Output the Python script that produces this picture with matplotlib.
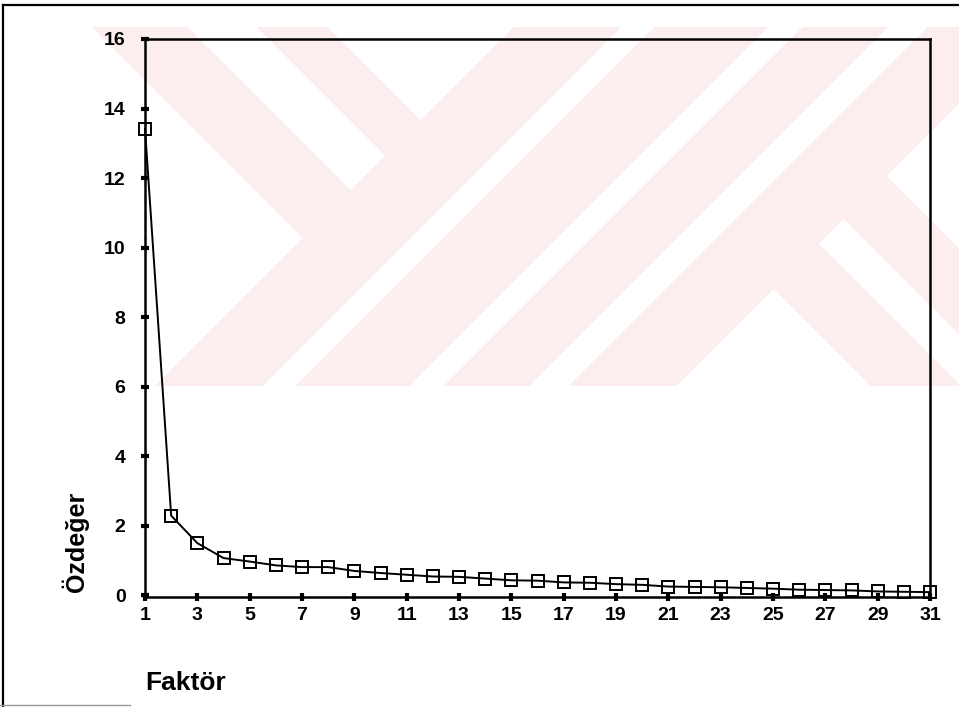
import numpy as np
import matplotlib
matplotlib.use("Agg")
import matplotlib.pyplot as plt
from matplotlib.lines import Line2D

plt.rcParams["font.family"] = ["Liberation Sans", "DejaVu Sans"]
plt.rcParams["font.weight"] = "bold"

# scree plot data
faktor = list(range(1, 32))
ozdeger = [13.42, 2.29, 1.50, 1.07, 0.97, 0.86, 0.81, 0.81, 0.70, 0.64,
           0.59, 0.54, 0.53, 0.48, 0.43, 0.42, 0.37, 0.36, 0.32, 0.30,
           0.25, 0.24, 0.23, 0.21, 0.19, 0.16, 0.15, 0.14, 0.11, 0.10, 0.09]
xticks = list(range(1, 32, 2))
yticks = list(range(0, 17, 2))

W, H = 959, 707
fig = plt.figure(figsize=(W / 100, H / 100), dpi=100)

# faint watermark behind the chart (pixel coords)
bg = fig.add_axes([0, 0, 1, 1], zorder=0)
bg.set_axis_off()
yy, xx = np.mgrid[0:H, 0:W] + 0.5
s = xx + yy
d = xx - yy
white = (yy < 27) | (yy > 386)
white |= (s < 541) & ((d < 65) | ((d > 160) & (d < 230)) | (d > 300))
white |= ((s > 648) & (s < 682)) | ((s > 795) & (s < 830)) | ((s > 915) & (s < 955))
white |= (s > 1062) & ((d < 485) | ((d > 575) & (d < 625)) | (d > 710))
img = np.ones((H, W, 3))
img[~white] = [0.992, 0.93, 0.937]
bg.imshow(img, extent=(0, W, H, 0), interpolation="nearest")
bg.set_xlim(0, W)
bg.set_ylim(H, 0)

# outer frame of the scanned page
bg.add_line(Line2D([3, 3], [5, H], color="black", lw=1.6))
bg.add_line(Line2D([3, W], [5, 5], color="black", lw=1.6))
bg.add_line(Line2D([0, 130], [705, 705], color="#999999", lw=1.0))

ax = fig.add_axes([145 / W, 1 - 597 / H, (930 - 145) / W, (597 - 39) / H], zorder=1)
ax.set_facecolor("none")
ax.plot(faktor, ozdeger, color="black", lw=1.4, marker="s", ms=9,
        mfc="none", mec="black", mew=1.4, clip_on=False)

ax.set_xlim(1, 31)
ax.set_ylim(-0.05, 16)
ax.set_xticks(xticks)
ax.set_yticks(yticks)
for sp in ax.spines.values():
    sp.set_linewidth(1.8)
ax.tick_params(axis="both", direction="inout", length=6, width=3, labelsize=14)
ax.tick_params(axis="y", pad=11)
ax.tick_params(axis="x", pad=4)

fig.text(75 / W, 1 - 592 / H, "Özdeğer", rotation=90, ha="center", va="bottom",
         fontsize=18, fontweight="bold")
fig.text(145 / W, 1 - 683 / H, "Faktör", ha="left", va="center",
         fontsize=19, fontweight="bold")

fig.savefig("out.png", dpi=100)
